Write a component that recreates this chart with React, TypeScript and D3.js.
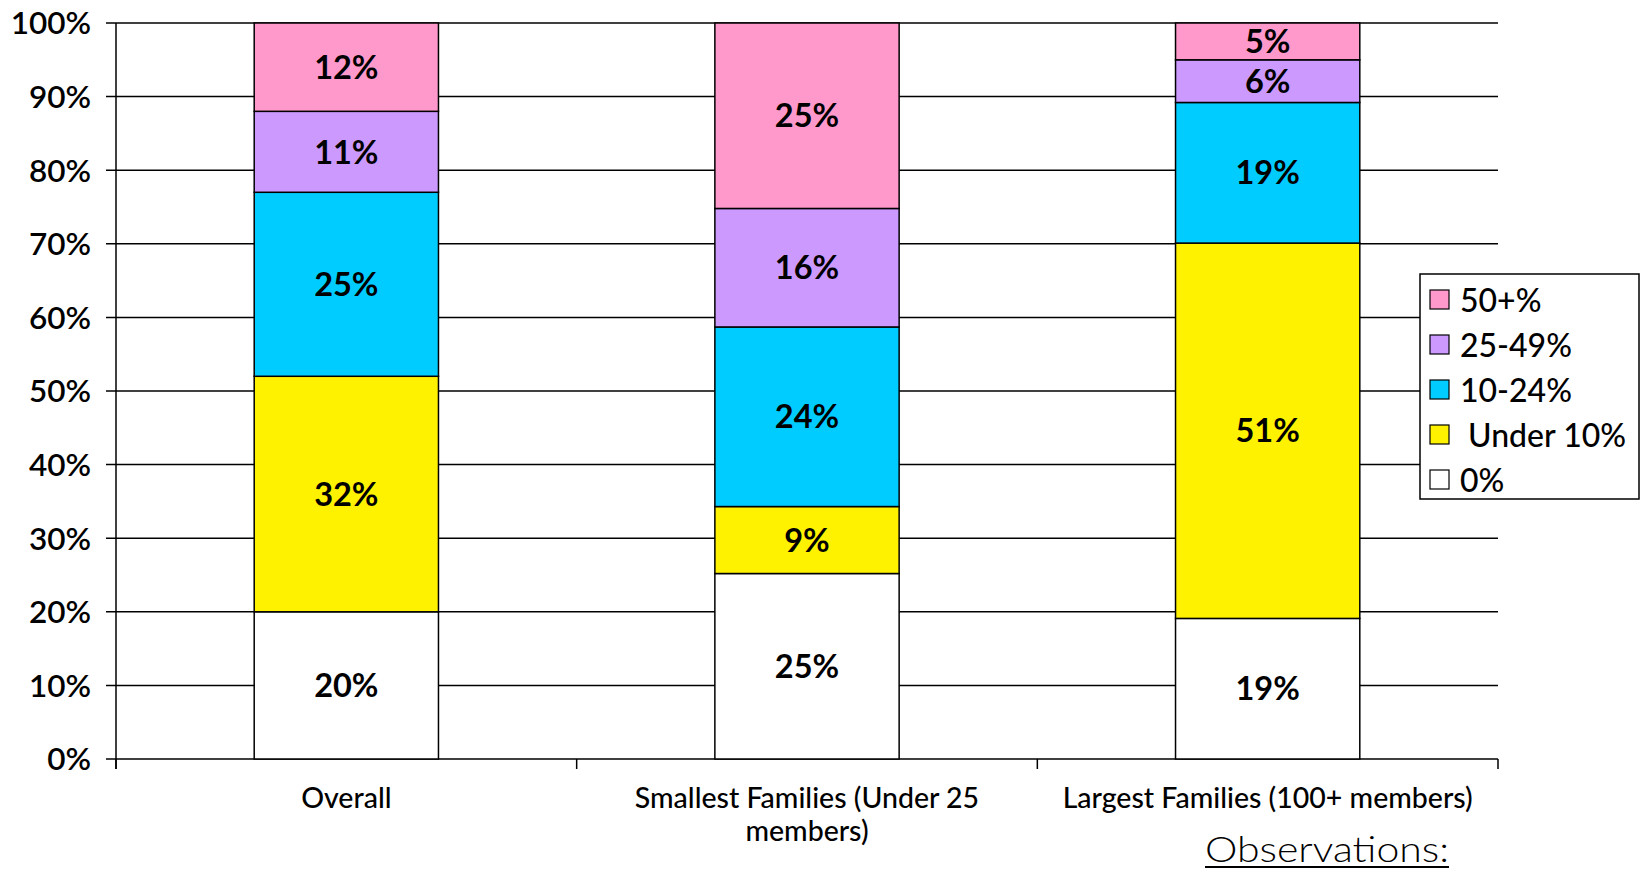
import React from 'react';
import * as d3 from 'd3';

const categories = ['Overall', 'Smallest Families (Under 25 members)', 'Largest Families (100+ members)'];
const categoryLines = [['Overall'], ['Smallest Families (Under 25', 'members)'], ['Largest Families (100+ members)']];
const seriesNames = ['0%', ' Under 10%', '10-24%', '25-49%', '50+%'];
const seriesColors = ['#FFFFFF', '#FFF200', '#00CCFF', '#CC99FF', '#FF99CC'];
// values per series, in category order
const zeroPct = [20, 25.2, 19.1];
const under10 = [32, 9.1, 51.0];
const pct10to24 = [25, 24.4, 19.1];
const pct25to49 = [11, 16.1, 5.8];
const pct50plus = [12, 25.2, 5.0];
const yTicks = [0, 10, 20, 30, 40, 50, 60, 70, 80, 90, 100];

const W = 1643;
const H = 872;
const margin = { top: 23, right: 145, bottom: 113, left: 116 };

const App: React.FC = () => {
  const seriesValues = [zeroPct, under10, pct10to24, pct25to49, pct50plus];
  const rows = categories.map((c, i) => {
    const r: Record<string, number | string> = { cat: c };
    seriesNames.forEach((s, j) => (r[s] = seriesValues[j][i]));
    return r;
  });
  const stack = d3.stack<Record<string, number | string>>().keys(seriesNames).value((d, k) => d[k] as number);
  const stacked = stack(rows);

  const x = d3.scaleBand().domain(categories).range([margin.left, W - margin.right]).paddingInner(0.6).paddingOuter(0.3);
  const outer = d3.scaleBand().domain(categories).range([margin.left, W - margin.right]);
  const y = d3.scaleLinear().domain([0, 100]).range([H - margin.bottom, margin.top]);
  const x0 = margin.left;
  const x1 = W - margin.right;
  const bw = x.bandwidth();

  const labelFont = 'Lato, "DejaVu Sans", sans-serif';
  const legendY = d3.scaleLinear().domain([0, 4]).range([300, 480]);
  const legendOrder = [4, 3, 2, 1, 0];

  return (
    <div style={{ position: 'absolute', left: 0, top: 0 }}>
      <svg width={W} height={H} style={{ display: 'block', background: '#fff' }}>
        {/* gridlines */}
        {yTicks.map((t) => (
          <g key={t}>
            <line x1={x0 - 10} x2={x1} y1={y(t)} y2={y(t)} stroke="#000" strokeWidth={1.5} />
            <text x={91} y={y(t)} dy="0.36em" textAnchor="end" fontFamily={labelFont} fontWeight={600} fontSize={31.5} fill="#000">
              {t}%
            </text>
          </g>
        ))}
        {/* y axis */}
        <line x1={x0} x2={x0} y1={y(100)} y2={y(0) + 10} stroke="#000" strokeWidth={1.5} />
        {/* category ticks */}
        {[...categories.map((c) => outer(c) as number), x1].map((v, i) => (
          <line key={i} x1={v} x2={v} y1={y(0)} y2={y(0) + 10} stroke="#000" strokeWidth={1.5} />
        ))}
        {/* bars */}
        {stacked.map((layer, si) => (
          <g key={layer.key}>
            {layer.map((d, ci) => {
              const cat = categories[ci];
              const top = y(d[1]);
              const bot = y(d[0]);
              return (
                <g key={cat}>
                  <rect x={x(cat)} y={top} width={bw} height={bot - top} fill={seriesColors[si]} stroke="#000" strokeWidth={1.5} />
                  <text
                    x={(x(cat) as number) + bw / 2}
                    y={(top + bot) / 2}
                    dy="0.36em"
                    textAnchor="middle"
                    fontFamily={labelFont}
                    fontWeight={700}
                    fontSize={32.5}
                    fill="#000"
                  >
                    {Math.round(d[1] - d[0])}%
                  </text>
                </g>
              );
            })}
          </g>
        ))}
        {/* category labels */}
        {categories.map((c, i) => (
          <text key={c} x={(outer(c) as number) + outer.bandwidth() / 2} y={808} textAnchor="middle" fontFamily={labelFont} fontWeight={500} fontSize={28.5} fill="#000">
            {categoryLines[i].map((ln, k) => (
              <tspan key={k} x={(outer(c) as number) + outer.bandwidth() / 2} dy={k === 0 ? 0 : 33}>
                {ln}
              </tspan>
            ))}
          </text>
        ))}
        {/* legend */}
        <rect x={1420} y={274} width={219} height={225} fill="#fff" stroke="#000" strokeWidth={1.5} />
        {legendOrder.map((si, k) => (
          <g key={si}>
            <rect x={1430} y={legendY(k) - 10} width={19} height={19} fill={seriesColors[si]} stroke="#000" strokeWidth={1.2} />
            <text x={1460} y={legendY(k)} dy="0.36em" fontFamily={labelFont} fontWeight={500} fontSize={32} fill="#000" style={{ whiteSpace: 'pre' }}>
              {seriesNames[si]}
            </text>
          </g>
        ))}
        {/* observations */}
        <text x={1205} y={862} fontFamily={labelFont} fontWeight={300} fontSize={36} textLength={244} lengthAdjust="spacingAndGlyphs" fill="#000">
          Observations:
        </text>
        <line x1={1205} x2={1449} y1={867} y2={867} stroke="#000" strokeWidth={2} />
      </svg>
    </div>
  );
};

export default App;
